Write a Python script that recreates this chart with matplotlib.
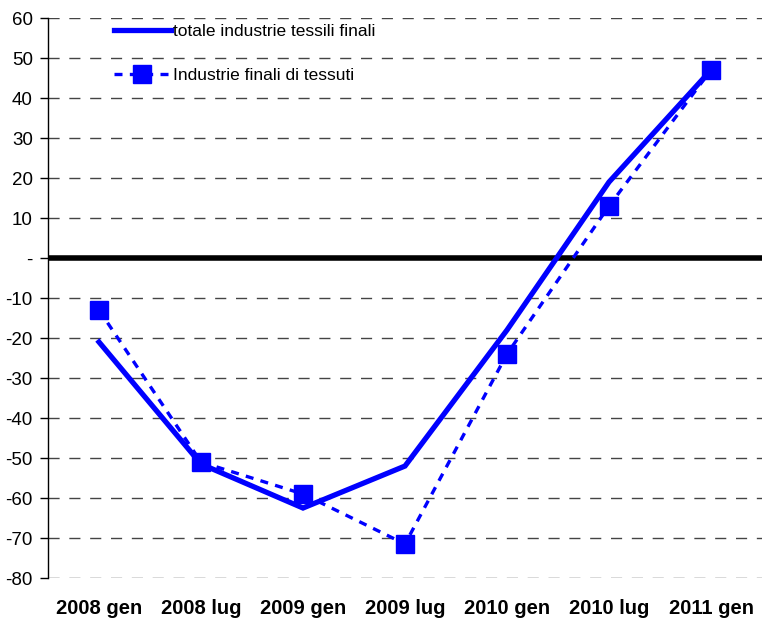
import matplotlib.pyplot as plt
import numpy as np

periods = ["2008 gen", "2008 lug", "2009 gen", "2009 lug", "2010 gen", "2010 lug", "2011 gen"]
totale = [-21, -51.5, -62.5, -52, -18, 19, 47]
tessuti = [-13, -51, -59, -71.5, -24, 13, 47]
yticks = list(range(-80, 61, 10))
ylabels = ["-" if v == 0 else str(v) for v in yticks]

plt.rcParams["font.family"] = ["Liberation Sans", "DejaVu Sans"]

fig = plt.figure(figsize=(7.62, 6.22), dpi=100)
ax = fig.add_axes([0.063, 0.0707, 0.937, 0.9003])

x = np.arange(len(periods))
for v in yticks:
    if v != 0:
        ax.axhline(v, color="#444444", lw=1, ls=(0, (8, 7)), zorder=1)
ax.axhline(0, color="black", lw=4, zorder=2)

ax.plot(x, totale, color="#0000ff", lw=3.8, solid_joinstyle="miter",
        label="totale industrie tessili finali", zorder=3)
ax.plot(x, tessuti, color="#0000ff", lw=2.4, ls=(0, (2.4, 2.2)), marker="s",
        markersize=12.5, label="Industrie finali di tessuti", zorder=4)

ax.set_xlim(-0.5, len(periods) - 0.5)
ax.set_ylim(-80, 60)
ax.set_yticks(yticks)
ax.set_yticklabels(ylabels, fontsize=13.5)
ax.set_xticks(x)
ax.set_xticklabels(periods, fontsize=14.5, fontweight="bold")
ax.tick_params(axis="x", length=0, pad=15)
ax.tick_params(axis="y", length=6, width=1, direction="out", pad=5)

for side in ["top", "right", "bottom"]:
    ax.spines[side].set_visible(False)
ax.spines["left"].set_linewidth(1)

ax.legend(loc="upper left", bbox_to_anchor=(0.07, 1.018), frameon=False, fontsize=12.5,
          handlelength=3.3, handletextpad=0.1, labelspacing=1.7)

fig.savefig("out.png", dpi=100)
